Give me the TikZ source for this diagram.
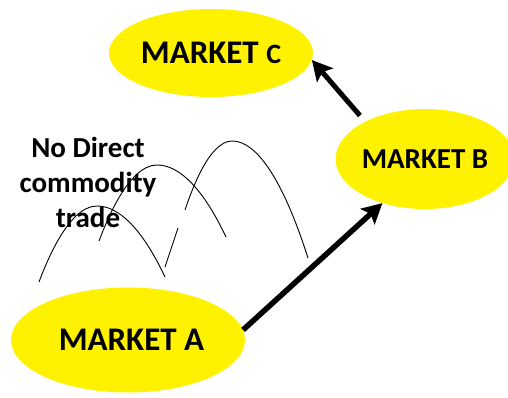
\documentclass[tikz,border=0pt]{standalone}
\usepackage{fontspec}
\setmainfont{Carlito}
\usetikzlibrary{shapes.geometric,arrows.meta}

\tikzset{
  market/.style={ellipse, fill=yellow, inner sep=0pt},
  trade arc/.style={line width=0.9pt},
  flow/.style={line width=5.5pt, -{Stealth[length=20pt,width=21pt,inset=4pt]}}
}

\begin{document}
\begin{tikzpicture}[x=1pt,y=-1pt]
    \useasboundingbox (0,0) rectangle (508,398);

    % --- markets ---
    \node[market, minimum width=234pt, minimum height=105pt,
          font=\fontsize{33}{38}\selectfont\bfseries] (mA) at (128,340) {\hspace*{7pt}MARKET A};
    \node[market, minimum width=166pt, minimum height=100pt,
          font=\fontsize{29}{34}\selectfont\bfseries] (mB) at (425,159) {MARKET B};
    \node[market, minimum width=204pt, minimum height=88pt,
          font=\fontsize{33}{38}\selectfont\bfseries] (mC) at (211,53)
          {MARKET {\fontsize{28}{32}\selectfont C}};

    % --- no direct trade between A and C ---
    \draw[trade arc] (39,282) parabola bend (97,206) (165,277);
    \draw[trade arc] (99,241) parabola bend (157,165) (226,237);
    \draw[trade arc] (165,267) -- (178,228);
    \draw[trade arc] (185,210) parabola bend (232,141) (308,258);

    \node[align=center, font=\fontsize{29}{35}\selectfont\bfseries] (note) at (88,182)
      {No Direct\\commodity\\trade};

    % --- flows ---
    \draw[flow] (mA.5) -- (mB.226);
    \draw[flow, line width=5pt, shorten <=8pt] (mB.148) -- (mC.-4);

\end{tikzpicture}
\end{document}
